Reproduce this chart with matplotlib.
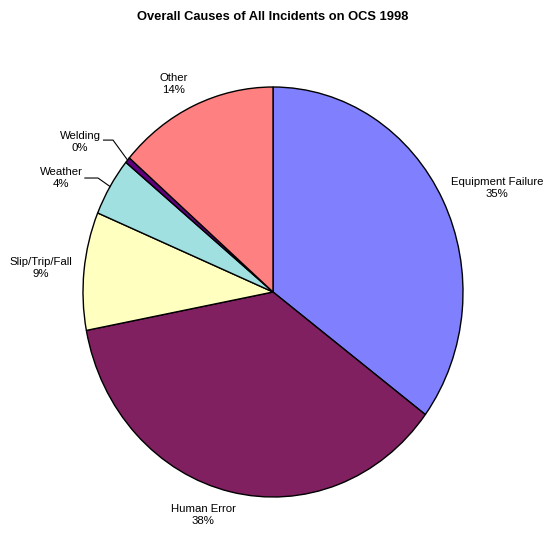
import matplotlib
matplotlib.use("Agg")
import matplotlib.pyplot as plt
import numpy as np

# ---- data ----
categories = ["Equipment Failure", "Human Error", "Slip/Trip/Fall", "Weather", "Welding", "Other"]
values = [35.2, 36.8, 9.3, 4.6, 0.45, 13.65]
pct_labels = ["35%", "38%", "9%", "4%", "0%", "14%"]
colors = ["#8080FF", "#802060", "#FFFFC0", "#A0E0E0", "#600080", "#FF8080"]
title = "Overall Causes of All Incidents on OCS 1998"

# ---- layout (label positions in pie-radius units) ----
label_pos = [(1.179, 0.507), (-0.368, -1.088), (-1.221, 0.117),
             (-1.116, 0.556), (-1.016, 0.732), (-0.521, 1.015)]
# leader lines: (start of line near text, elbow x) ; None = no leader
leaders = [None, None, None, ((-0.990, 0.556), -0.921), ((-0.892, 0.741), -0.842), None]

W, H = 547, 533
cx, cy, rx, ry = 273, 292, 190, 205

plt.rcParams['font.family'] = ['Liberation Sans', 'DejaVu Sans']
fig = plt.figure(figsize=(W / 100, H / 100), dpi=100)
ax = fig.add_axes([0, 0, 1, 1])

wedges, _ = ax.pie(values, colors=colors, startangle=90, counterclock=False,
                   wedgeprops=dict(edgecolor="black", linewidth=1.0))
ax.set_aspect('auto')
ax.set_xlim(-cx / rx, (W - cx) / rx)
ax.set_ylim(-(H - cy) / ry, cy / ry)
ax.axis('off')

for i, (cat, p) in enumerate(zip(categories, pct_labels)):
    x, y = label_pos[i]
    ax.text(x, y, f"{cat}\n{p}", ha='center', va='center', fontsize=8.2,
            linespacing=1.25, color='black')
    if leaders[i] is not None:
        w = wedges[i]
        mid = np.deg2rad((w.theta1 + w.theta2) / 2)
        ex, ey = np.cos(mid), np.sin(mid)
        (sx, sy), elx = leaders[i]
        ax.plot([sx, elx, ex], [sy, sy, ey], color='black', lw=0.8)

fig.text(cx / W, 1 - 17 / H, title, ha='center', va='center', fontsize=9.3,
         fontweight='bold')

fig.savefig("out.png", dpi=100)
